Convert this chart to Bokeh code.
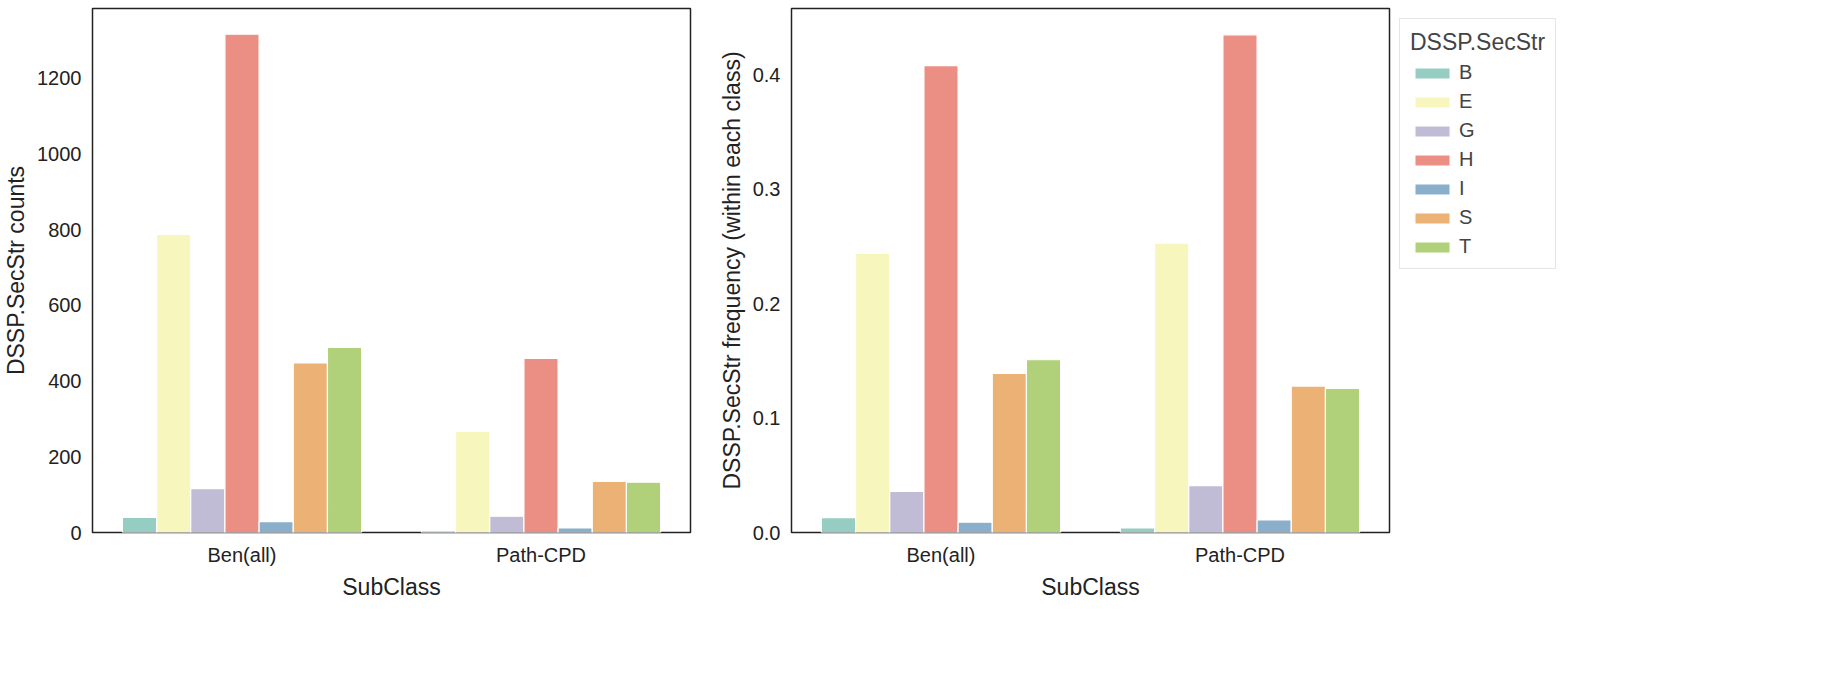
from bokeh.plotting import figure
from bokeh.layouts import row
from bokeh.models import FixedTicker, Legend, LegendItem, Range1d
from bokeh.embed import file_html
from bokeh.resources import INLINE

subclasses = ["Ben(all)", "Path-CPD"]
secstr = ["B", "E", "G", "H", "I", "S", "T"]
colors = ["#96cdc3", "#f7f6bd", "#c1bcd6", "#eb8f84", "#8aafcb", "#ebb175", "#b0d17a"]

counts = {
    "Ben(all)": [40, 788, 116, 1317, 29, 448, 489],
    "Path-CPD": [4, 267, 43, 460, 12, 135, 133],
}
freqs = {
    "Ben(all)": [0.013, 0.244, 0.036, 0.408, 0.009, 0.139, 0.151],
    "Path-CPD": [0.004, 0.253, 0.041, 0.435, 0.011, 0.128, 0.126],
}

FONT = "Liberation Sans"
bw = 0.8 / len(secstr)


def make(data, ylabel, ymax, ticks, fmt, legend=False):
    p = figure(frame_width=598, frame_height=524, output_backend="svg", toolbar_location=None,
               x_range=Range1d(-0.5, 1.5), y_range=Range1d(0, ymax))
    items = []
    for j, s in enumerate(secstr):
        xs = [i - 0.4 + bw * (j + 0.5) for i in range(len(subclasses))]
        tops = [data[c][j] for c in subclasses]
        r = p.vbar(x=xs, top=tops, width=bw, fill_color=colors[j],
                   line_color="white", line_width=1.2)
        items.append(LegendItem(label=s, renderers=[r]))
    p.xaxis.ticker = FixedTicker(ticks=[0, 1])
    p.xaxis.major_label_overrides = {0: subclasses[0], 1: subclasses[1]}
    p.yaxis.ticker = FixedTicker(ticks=ticks)
    p.yaxis.major_label_overrides = {t: fmt(t) for t in ticks}
    p.xaxis.axis_label = "SubClass"
    p.yaxis.axis_label = ylabel
    for ax in (p.xaxis, p.yaxis):
        ax.axis_label_text_font = FONT
        ax.axis_label_text_font_size = "23px"
        ax.axis_label_text_font_style = "normal"
        ax.axis_label_text_color = "#222222"
        ax.major_label_text_font = FONT
        ax.major_label_text_font_size = "20px"
        ax.major_label_text_color = "#222222"
        ax.axis_line_color = None
        ax.major_tick_line_color = None
        ax.minor_tick_line_color = None
    p.grid.grid_line_color = None
    p.outline_line_color = "#222222"
    p.outline_line_width = 1.5
    p.min_border_top = 8
    p.min_border_left = 10
    if legend:
        lg = Legend(items=items, title="DSSP.SecStr", location="top_left",
                    label_text_font=FONT, label_text_font_size="20px",
                    title_text_font=FONT, title_text_font_size="23px",
                    title_text_font_style="normal",
                    border_line_color="#cccccc", glyph_width=44, glyph_height=14,
                    label_width=40, spacing=6, padding=10, margin=10)
        p.add_layout(lg, "right")
    return p


p1 = make(counts, "DSSP.SecStr counts", 1385, [0, 200, 400, 600, 800, 1000, 1200],
          lambda t: str(t))
p2 = make(freqs, "DSSP.SecStr frequency (within each class)", 0.458, [0.0, 0.1, 0.2, 0.3, 0.4],
          lambda t: f"{t:.1f}", legend=True)
p = row(p1, p2, spacing=20)

open("out.html", "w").write(file_html(p, INLINE))
